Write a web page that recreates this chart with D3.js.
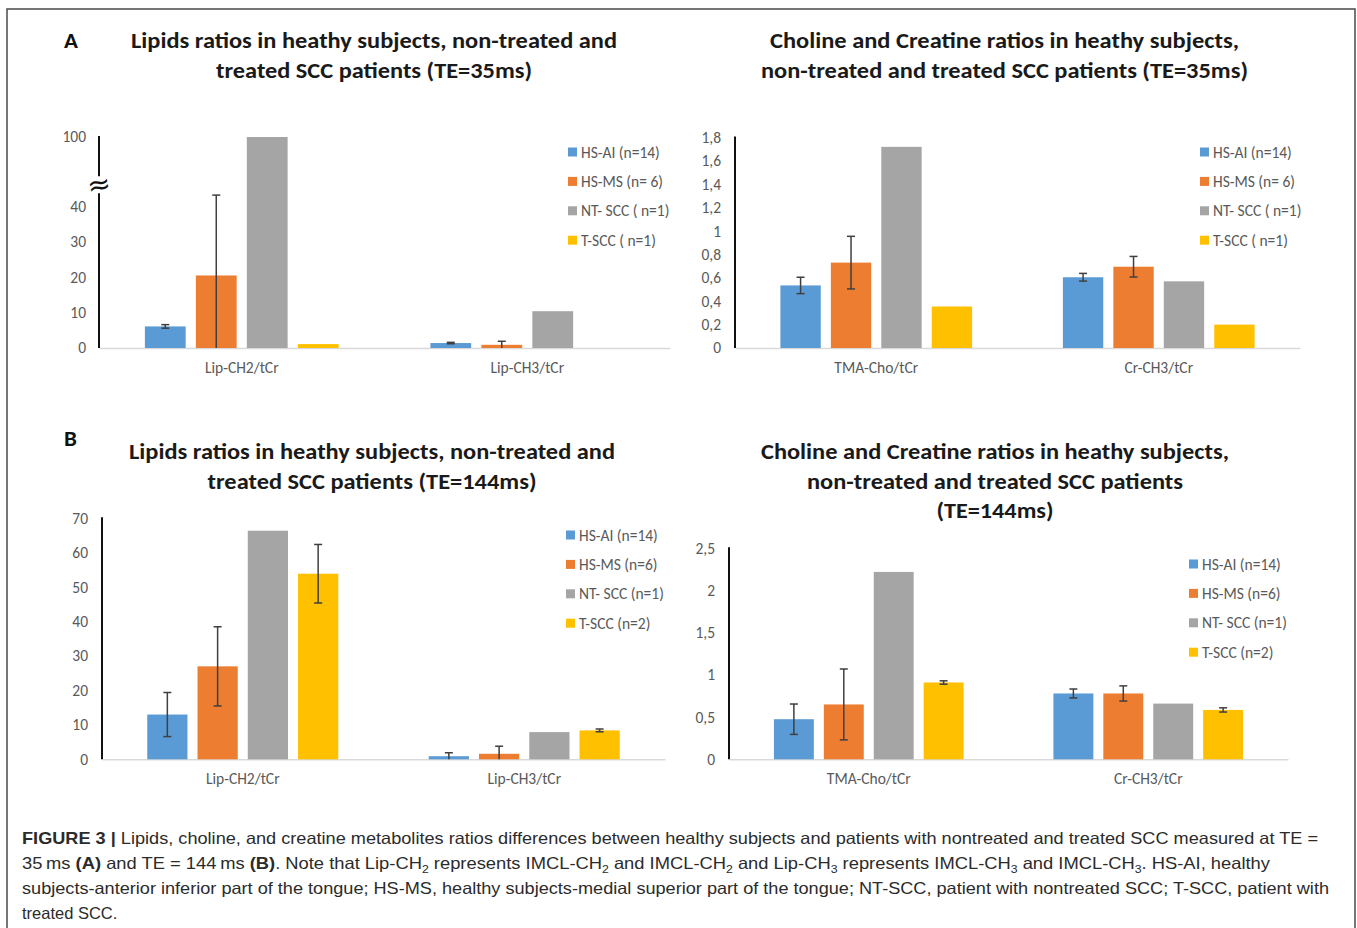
<!DOCTYPE html>
<html>
<head>
<meta charset="utf-8">
<script src="https://cdn.jsdelivr.net/npm/d3@7"></script>
<style>
  body { margin: 0; background: #fff; }
  svg { display: block; }
</style>
</head>
<body>
<svg id="fig" width="1357" height="928"></svg>
<script>
// ---------------- data ----------------
const lipidCategories = ["Lip-CH2/tCr", "Lip-CH3/tCr"];
const cholineCategories = ["TMA-Cho/tCr", "Cr-CH3/tCr"];
const groups35 = ["HS-AI (n=14)", "HS-MS (n= 6)", "NT- SCC ( n=1)", "T-SCC ( n=1)"];
const groups144 = ["HS-AI (n=14)", "HS-MS (n=6)", "NT- SCC (n=1)", "T-SCC (n=2)"];
const groupColors = ["#5B9BD5", "#ED7D31", "#A5A5A5", "#FFC000"];

// rows = metabolite ratio, columns = subject group; null = no error bar
const lipids35Mean = [[6.1, 20.5, 100, 1.1], [1.4, 0.9, 10.4, 0]];
const lipids35Err = [[0.5, 22.7, null, null], [0.2, 1.0, null, null]];
const lipids35Ticks = [0, 10, 20, 30, 40, 100];
const lipids35Break = 46; // axis is broken above this value

const choline35Mean = [[0.535, 0.73, 1.72, 0.355], [0.605, 0.695, 0.57, 0.2]];
const choline35Err = [[0.07, 0.225, null, null], [0.033, 0.088, null, null]];
const choline35Ticks = [0, 0.2, 0.4, 0.6, 0.8, 1, 1.2, 1.4, 1.6, 1.8];

const lipids144Mean = [[13, 27, 66.4, 53.9], [0.9, 1.6, 7.9, 8.4]];
const lipids144Err = [[6.4, 11.5, null, 8.5], [1.0, 2.2, null, 0.4]];
const lipids144Ticks = [0, 10, 20, 30, 40, 50, 60, 70];

const choline144Mean = [[0.475, 0.65, 2.22, 0.91], [0.78, 0.78, 0.66, 0.585]];
const choline144Err = [[0.18, 0.42, null, 0.02], [0.053, 0.09, null, 0.025]];
const choline144Ticks = [0, 0.5, 1, 1.5, 2, 2.5];

// ---------------- drawing ----------------
const svg = d3.select("#fig");
const chartFont = "Carlito, Calibri, Lato, sans-serif";
const fmt = d3.formatLocale({ decimal: ",", thousands: ".", grouping: [3], currency: ["", ""] }).format("~f");

// figure frame
svg.append("rect")
  .attr("x", 7).attr("y", 9).attr("width", 1348).attr("height", 960)
  .attr("fill", "none").attr("stroke", "#4a4a4a").attr("stroke-width", 1.5);

function panelLetter(letter, x, y) {
  svg.append("text").attr("x", x).attr("y", y)
    .attr("font-family", chartFont).attr("font-weight", 900).attr("font-size", 23)
    .attr("fill", "#111").text(letter);
}

function title(lines, cx, y0, widths) {
  lines.forEach((s, i) => {
    svg.append("text").attr("x", cx).attr("y", y0 + i * 29.5)
      .attr("text-anchor", "middle")
      .attr("font-family", chartFont).attr("font-weight", 700).attr("font-size", 21.5)
      .attr("fill", "#1a1a1a")
      .attr("textLength", widths[i]).attr("lengthAdjust", "spacingAndGlyphs")
      .text(s);
  });
}

function drawPanel(p) {
  const g = svg.append("g");
  const x0 = d3.scaleBand().domain(p.categories).range([p.left, p.right]);
  const x1 = d3.scaleBand().domain(d3.range(p.groups.length))
    .range([0, x0.bandwidth()]).paddingInner(0.2).paddingOuter(0.9);
  const y = d3.scaleLinear().domain(p.domain).range(p.range);
  const base = y(0);

  // category baseline + labels
  const xAxis = g.append("g").attr("transform", `translate(0,${base})`)
    .call(d3.axisBottom(x0).tickSize(0).tickSizeOuter(0).tickPadding(p.catPad));
  xAxis.select(".domain").attr("stroke", "#d9d9d9").attr("stroke-width", 1.5);
  xAxis.selectAll("text").attr("font-family", chartFont).attr("font-size", 15.5).attr("fill", "#595959");

  // bars
  const rows = p.categories.map((c, ci) => p.mean[ci].map((v, gi) => ({
    cat: c, gi, v, e: p.err[ci][gi]
  }))).flat();

  g.selectAll("rect.bar").data(rows.filter(d => d.v > 0)).join("rect")
    .attr("class", "bar")
    .attr("x", d => x0(d.cat) + x1(d.gi))
    .attr("width", x1.bandwidth())
    .attr("y", d => y(d.v))
    .attr("height", d => base - y(d.v))
    .attr("fill", d => groupColors[d.gi]);

  // error bars (clipped at zero)
  const eb = g.selectAll("g.err").data(rows.filter(d => d.e != null)).join("g").attr("class", "err")
    .attr("transform", d => `translate(${x0(d.cat) + x1(d.gi) + x1.bandwidth() / 2},0)`)
    .attr("stroke", "#3f3f3f").attr("stroke-width", 1.5);
  eb.append("line")
    .attr("y1", d => y(d.v + d.e)).attr("y2", d => y(Math.max(0, d.v - d.e)));
  eb.append("line").attr("x1", -4).attr("x2", 4)
    .attr("y1", d => y(d.v + d.e)).attr("y2", d => y(d.v + d.e));
  eb.filter(d => d.v - d.e > 0).append("line").attr("x1", -4).attr("x2", 4)
    .attr("y1", d => y(d.v - d.e)).attr("y2", d => y(d.v - d.e));

  // value axis
  const yAxis = g.append("g").attr("transform", `translate(${p.left},0)`)
    .call(d3.axisLeft(y).tickValues(p.ticks).tickSize(0).tickPadding(p.tickPad).tickFormat(fmt));
  yAxis.select(".domain").remove();
  yAxis.selectAll("text").attr("font-family", chartFont).attr("font-size", 15.5).attr("fill", "#595959");

  const top = y(d3.max(p.ticks));
  if (p.breakAt != null) {
    const yb = y(p.breakAt);
    g.append("line").attr("x1", p.left).attr("x2", p.left).attr("y1", base).attr("y2", yb + 8)
      .attr("stroke", "#111").attr("stroke-width", 2);
    g.append("line").attr("x1", p.left).attr("x2", p.left).attr("y1", yb - 9).attr("y2", top - 1)
      .attr("stroke", "#111").attr("stroke-width", 2);
    g.append("text").attr("x", p.left).attr("y", yb + 9)
      .attr("text-anchor", "middle").attr("font-family", "DejaVu Sans, sans-serif")
      .attr("font-size", 28).attr("fill", "#111")
      .attr("transform", `rotate(-10,${p.left},${yb})`).text("\u2248");
  } else {
    g.append("line").attr("x1", p.left).attr("x2", p.left).attr("y1", base).attr("y2", top - 1)
      .attr("stroke", "#111").attr("stroke-width", 2);
  }

  // legend
  const lg = g.append("g").selectAll("g").data(p.groups).join("g")
    .attr("transform", (d, i) => `translate(${p.legendX},${p.legendY + i * 29.4})`);
  lg.append("rect").attr("x", 0).attr("y", -4.5).attr("width", 9).attr("height", 9)
    .attr("fill", (d, i) => groupColors[i]);
  lg.append("text").attr("x", 13).attr("y", 5.5)
    .attr("font-family", chartFont).attr("font-size", 15.5).attr("fill", "#595959").text(d => d);
}

// ---- A: TE = 35 ms ----
panelLetter("A", 64, 48);
title(["Lipids ratios in heathy subjects, non-treated and", "treated SCC patients (TE=35ms)"], 374, 48, [486, 316]);
title(["Choline and Creatine ratios in heathy subjects,", "non-treated and treated SCC patients (TE=35ms)"], 1004.5, 48, [469, 487]);

drawPanel({
  categories: lipidCategories, groups: groups35, mean: lipids35Mean, err: lipids35Err,
  ticks: lipids35Ticks, breakAt: lipids35Break,
  domain: [0, lipids35Break, 100], range: [348, 185.2, 137],
  left: 99, right: 670, tickPad: 13, catPad: 14,
  legendX: 568, legendY: 152
});

drawPanel({
  categories: cholineCategories, groups: groups35, mean: choline35Mean, err: choline35Err,
  ticks: choline35Ticks, domain: [0, 1.8], range: [348, 137.5],
  left: 735, right: 1300, tickPad: 14, catPad: 14,
  legendX: 1200, legendY: 152
});

// ---- B: TE = 144 ms ----
panelLetter("B", 64, 446);
title(["Lipids ratios in heathy subjects, non-treated and", "treated SCC patients (TE=144ms)"], 372, 459, [486, 329]);
title(["Choline and Creatine ratios in heathy subjects,", "non-treated and treated SCC patients", "(TE=144ms)"], 995, 459, [468, 376, 117]);

drawPanel({
  categories: lipidCategories, groups: groups144, mean: lipids144Mean, err: lipids144Err,
  ticks: lipids144Ticks, domain: [0, 70], range: [759.3, 518.3],
  left: 102, right: 665, tickPad: 14, catPad: 14,
  legendX: 566, legendY: 535
});

drawPanel({
  categories: cholineCategories, groups: groups144, mean: choline144Mean, err: choline144Err,
  ticks: choline144Ticks, domain: [0, 2.5], range: [759.3, 548.3],
  left: 729, right: 1288, tickPad: 14, catPad: 14,
  legendX: 1189, legendY: 564
});

// ---- caption ----
const cap = svg.append("g")
  .attr("font-family", "'Liberation Sans', Arial, sans-serif")
  .attr("font-size", 16.5).attr("fill", "#2b2b2b");

// pieces: [text, style] where style is "b" (bold) or "sub" (subscript)
function captionLine(y, pieces, len) {
  const t = cap.append("text").attr("x", 22).attr("y", y);
  if (len) t.attr("textLength", len).attr("lengthAdjust", "spacingAndGlyphs");
  let lowered = false;
  pieces.forEach(([s, style]) => {
    const ts = t.append("tspan").text(s);
    if (style === "b") ts.attr("font-weight", 700);
    if (style === "sub") {
      ts.attr("font-size", 11).attr("dy", lowered ? 0 : 4);
      lowered = true;
    } else if (lowered) {
      ts.attr("dy", -4);
      lowered = false;
    }
  });
}

captionLine(844, [["FIGURE 3 |", "b"],
  [" Lipids, choline, and creatine metabolites ratios differences between healthy subjects and patients with nontreated and treated SCC measured at TE ="]], 1296);
captionLine(869, [["35\u2009ms "], ["(A)", "b"], [" and TE = 144\u2009ms "], ["(B)", "b"],
  [". Note that Lip-CH"], ["2", "sub"], [" represents IMCL-CH"], ["2", "sub"],
  [" and IMCL-CH"], ["2", "sub"], [" and Lip-CH"], ["3", "sub"],
  [" represents IMCL-CH"], ["3", "sub"], [" and IMCL-CH"], ["3", "sub"], [". HS-AI, healthy"]], 1248);
captionLine(894, [["subjects-anterior inferior part of the tongue; HS-MS, healthy subjects-medial superior part of the tongue; NT-SCC, patient with nontreated SCC; T-SCC, patient with"]], 1307);
captionLine(919, [["treated SCC."]]);
</script>
</body>
</html>
